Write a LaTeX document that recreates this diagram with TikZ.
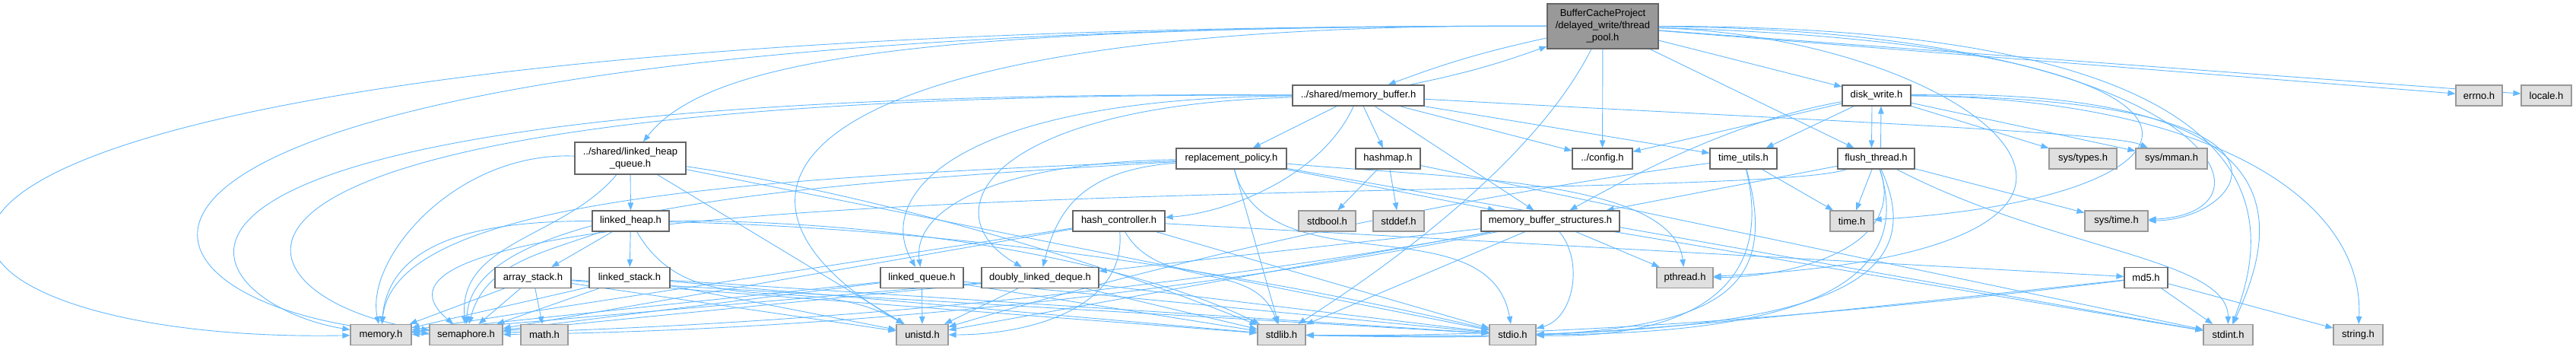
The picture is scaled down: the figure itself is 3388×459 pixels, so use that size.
\documentclass[tikz,border=0pt]{standalone}
\usepackage{fontspec}
\setmainfont{Liberation Sans}
\usetikzlibrary{arrows.meta}
\definecolor{depblue}{HTML}{63B8FF}
\definecolor{boxgray}{HTML}{666666}
\definecolor{sysgray}{HTML}{999999}
\definecolor{sysfill}{HTML}{E0E0E0}
\definecolor{rootfill}{HTML}{999999}
\pgfdeclarelayer{edges}
\pgfsetlayers{edges,main}

\begin{document}
\begin{tikzpicture}[x=1pt,y=1pt,
  hdr/.style={draw=boxgray,fill=white,line width=1.2pt,minimum height=27pt,inner sep=0pt,font=\fontsize{13pt}{16pt}\selectfont},
  syshdr/.style={hdr,draw=sysgray,fill=sysfill},
  dep/.style={depblue,line width=0.9pt,-{Triangle[length=10pt,width=7.5pt]}}]
\useasboundingbox (0,0) rectangle (3388,459);

% the file itself
\node[hdr,fill=rootfill,minimum width=146pt,minimum height=59pt,align=center] (root) at (2108,424.5)
  {BufferCacheProject\\/delayed\_write/thread\\\_pool.h};

% row 2
\node[hdr,minimum width=173pt] (membuf) at (1786.5,333.5) {../shared/memory\_buffer.h};
\node[hdr,minimum width=90pt] (diskw) at (2468,333.5) {disk\_write.h};
\node[syshdr,minimum width=61pt] (errno) at (3260.5,333.5) {errno.h};
\node[syshdr,minimum width=66pt] (locale) at (3349,333.5) {locale.h};

% row 3
\node[hdr,minimum width=146pt,minimum height=42pt,align=center] (lhq) at (829,251) {../shared/linked\_heap\\\_queue.h};
\node[hdr,minimum width=145pt] (replpol) at (1619.5,250.5) {replacement\_policy.h};
\node[hdr,minimum width=85pt] (hashmap) at (1825.5,250.5) {hashmap.h};
\node[hdr,minimum width=79pt] (config) at (2107.5,250.5) {../config.h};
\node[hdr,minimum width=88pt] (timeutils) at (2293,250.5) {time\_utils.h};
\node[hdr,minimum width=101pt] (flush) at (2467.5,250.5) {flush\_thread.h};
\node[syshdr,minimum width=89pt] (systypes) at (2739.5,250.5) {sys/types.h};
\node[syshdr,minimum width=94pt] (sysmman) at (2856,250.5) {sys/mman.h};

% row 4
\node[hdr,minimum width=101pt] (lheap) at (829.5,168.5) {linked\_heap.h};
\node[hdr,minimum width=121pt] (hashctl) at (1471.5,168.5) {hash\_controller.h};
\node[syshdr,minimum width=75pt] (stdbool) at (1745.5,168.5) {stdbool.h};
\node[syshdr,minimum width=67pt] (stddef) at (1839.5,168.5) {stddef.h};
\node[hdr,minimum width=182pt] (mbs) at (2039,168.5) {memory\_buffer\_structures.h};
\node[syshdr,minimum width=57pt] (time) at (2435.5,168.5) {time.h};
\node[syshdr,minimum width=83pt] (systime) at (2783.5,168.5) {sys/time.h};

% row 5
\node[hdr,minimum width=100pt] (astack) at (701,94) {array\_stack.h};
\node[hdr,minimum width=106pt] (lstack) at (828,94) {linked\_stack.h};
\node[hdr,minimum width=109pt] (lq) at (1212.5,94) {linked\_queue.h};
\node[hdr,minimum width=154pt] (dld) at (1368,94) {doubly\_linked\_deque.h};
\node[syshdr,minimum width=74pt] (pthread) at (2216,94) {pthread.h};
\node[hdr,minimum width=57pt] (md5) at (2822.5,94) {md5.h};

% row 6
\node[syshdr,minimum width=80pt] (memory) at (501,19) {memory.h};
\node[syshdr,minimum width=96pt] (semaphore) at (613,19) {semaphore.h};
\node[syshdr,minimum width=62pt] (math) at (716,19) {math.h};
\node[syshdr,minimum width=68pt] (unistd) at (1213,19) {unistd.h};
\node[syshdr,minimum width=63pt] (stdlib) at (1685.5,19) {stdlib.h};
\node[syshdr,minimum width=61pt] (stdio) at (1989.5,19) {stdio.h};
\node[syshdr,minimum width=65pt] (stdint) at (2930.5,19) {stdint.h};
\node[syshdr,minimum width=65pt] (string) at (3101.5,19) {string.h};

\begin{pgfonlayer}{edges}
% thread_pool.h
\draw[dep] (root) to[bend right=4] (membuf);
\draw[dep] (membuf) to[bend right=4] (root);
\draw[dep] (root) .. controls (1200,425) and (930,380) .. (lhq);
\foreach \t in {diskw,flush,config,errno,locale} \draw[dep] (root) -- (\t);
\draw[dep] (root) .. controls (3050,425) and (2980,150) .. (stdint);
\draw[dep] (root) .. controls (2900,420) and (3020,180) .. (systime);
\draw[dep] (root) .. controls (3000,400) and (2950,200) .. (time);
\draw[dep] (root) .. controls (2600,410) and (2950,130) .. (pthread);
\draw[dep] (root) .. controls (2010,230) and (1780,80) .. (stdlib);
\draw[dep] (root) .. controls (1000,430) and (900,200) .. (unistd);
\draw[dep] (root) .. controls (-450,430) and (-250,5) .. (memory);
\draw[dep] (root) .. controls (-100,430) and (100,40) .. (semaphore);

% memory_buffer.h
\foreach \t in {replpol,hashmap,config,mbs,timeutils} \draw[dep] (membuf) -- (\t);
\draw[dep] (membuf) .. controls (1740,230) and (1620,180) .. (hashctl);
\draw[dep] (membuf) .. controls (1250,330) and (1150,200) .. (lq);
\draw[dep] (membuf) .. controls (1300,320) and (1220,180) .. (dld);
\draw[dep] (membuf) .. controls (2400,300) and (2780,285) .. (sysmman);
\draw[dep] (membuf) .. controls (0,345) and (250,60) .. (memory);
\draw[dep] (membuf) .. controls (100,340) and (300,60) .. (semaphore);

% linked_heap_queue.h, linked_heap.h
\draw[dep] (lhq) -- (lheap);
\draw[dep] (lhq) .. controls (600,260) and (480,120) .. (memory);
\draw[dep] (lhq) to[out=-130,in=95] (semaphore);
\draw[dep] (lhq) -- (unistd);
\draw[dep] (lhq) -- (stdio);
\draw[dep] (lhq) .. controls (1123,208) and (1409,130) .. (stdlib);
\draw[dep] (lheap) -- (astack);
\draw[dep] (lheap) -- (lstack);
\draw[dep] (lheap) to[out=180,in=85] (memory);
\draw[dep] (lheap) to[out=200,in=75] (semaphore);
\draw[dep] (lheap) to[out=-60,in=150] (unistd);
\draw[dep] (lheap) .. controls (1200,170) and (1500,110) .. (stdlib);
\draw[dep] (lheap) .. controls (1220,160) and (1600,110) .. (stdio);

% containers
\foreach \s in {astack,lstack,lq,dld}
  \foreach \t in {memory,semaphore,unistd,stdlib,stdio}
    \draw[dep] (\s) -- (\t);
\draw[dep] (astack) -- (math);

% hash_controller.h
\draw[dep] (hashctl) -- (md5);
\draw[dep] (hashctl) to[out=-85,in=0] (unistd);
\draw[dep] (hashctl) to[out=-60,in=110] (stdlib);
\foreach \t in {stdio,memory,semaphore} \draw[dep] (hashctl) -- (\t);

% replacement_policy.h
\draw[dep] (replpol) .. controls (1300,245) and (1200,180) .. (lq);
\draw[dep] (replpol) .. controls (1420,235) and (1390,180) .. (dld);
\draw[dep] (replpol) .. controls (1900,225) and (2200,225) .. (pthread);
\draw[dep] (replpol) to[out=-75,in=100] (stdio);
\draw[dep] (replpol) .. controls (1000,225) and (520,200) .. (memory);
\draw[dep] (replpol) .. controls (1000,215) and (620,180) .. (semaphore);
\foreach \t in {mbs,stdlib,stdint} \draw[dep] (replpol) -- (\t);

% hashmap.h
\foreach \t in {stdbool,stddef,stdint} \draw[dep] (hashmap) -- (\t);

% memory_buffer_structures.h
\foreach \t in {dld,pthread,stdlib,unistd,stdint} \draw[dep] (mbs) -- (\t);
\draw[dep] (mbs) to[out=-50,in=15] (stdio);
\draw[dep] (mbs) .. controls (1568,73) and (1092,24) .. (semaphore);
\draw[dep] (mbs) .. controls (1530,75) and (1018,26) .. (memory);

% time_utils.h
\draw[dep] (timeutils) -- (time);
\draw[dep] (timeutils) .. controls (1927,202) and (1567,125) .. (unistd);
\draw[dep] (timeutils) .. controls (2355,30) and (2200,8) .. (stdlib);
\draw[dep] (timeutils) .. controls (2345,40) and (2150,15) .. (stdio);

% flush_thread.h
\draw[dep] ([xshift=6pt]flush.north) -- ([xshift=6pt]diskw.south);
\foreach \t in {mbs,time,systime} \draw[dep] (flush) -- (\t);
\draw[dep] (flush) .. controls (2510,130) and (2350,95) .. (pthread);
\draw[dep] (flush) .. controls (2530,60) and (2300,20) .. (stdio);
\draw[dep] (flush) .. controls (2560,50) and (2300,10) .. (stdlib);
\draw[dep] (flush) .. controls (2300,190) and (350,240) .. (semaphore);
\draw[dep] (flush) .. controls (2700,130) and (2930,120) .. (stdint);

% disk_write.h
\draw[dep] ([xshift=-6pt]diskw.south) -- ([xshift=-6pt]flush.north);
\foreach \t in {timeutils,config,systypes,sysmman} \draw[dep] (diskw) -- (\t);
\draw[dep] (diskw) .. controls (2280,300) and (2150,230) .. (mbs);
\draw[dep] (diskw) .. controls (2900,330) and (3110,200) .. (string);
\draw[dep] (diskw) .. controls (3050,345) and (2990,150) .. (stdint);
\draw[dep] (diskw) .. controls (3080,330) and (2950,170) .. (systime);

% md5.h
\draw[dep] (md5) -- (stdint);
\draw[dep] (md5) -- (string);
\draw[dep] (md5) .. controls (2500,60) and (2200,25) .. (stdio);
\draw[dep] (md5) .. controls (2500,55) and (2100,15) .. (stdlib);
\end{pgfonlayer}
\end{tikzpicture}
\end{document}
